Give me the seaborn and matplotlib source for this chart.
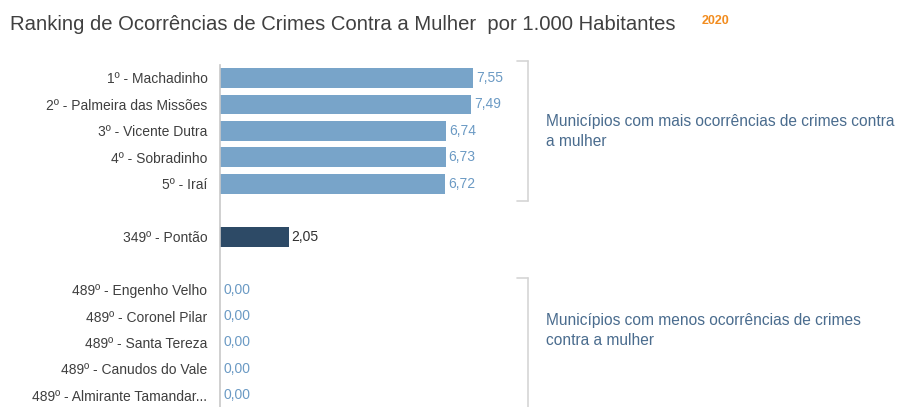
import matplotlib
matplotlib.use("Agg")
import matplotlib.pyplot as plt
from matplotlib.lines import Line2D
import seaborn as sns
import pandas as pd

# ---- data ----
municipios = [
    "1º - Machadinho",
    "2º - Palmeira das Missões",
    "3º - Vicente Dutra",
    "4º - Sobradinho",
    "5º - Iraí",
    "349º - Pontão",
    "489º - Engenho Velho",
    "489º - Coronel Pilar",
    "489º - Santa Tereza",
    "489º - Canudos do Vale",
    "489º - Almirante Tamandar...",
]
valores = [7.55, 7.49, 6.74, 6.73, 6.72, 2.05, 0.00, 0.00, 0.00, 0.00, 0.00]
grupos = ["top", "top", "top", "top", "top", "sel", "low", "low", "low", "low", "low"]
ordem = municipios[:5] + [" "] + [municipios[5]] + ["  "] + municipios[6:]

titulo = "Ranking de Ocorrências de Crimes Contra a Mulher  por 1.000 Habitantes"
ano = "2020"
nota_top = "Municípios com mais ocorrências de crimes contra\na mulher"
nota_low = "Municípios com menos ocorrências de crimes\ncontra a mulher"

sns.set_theme(style="white")
plt.rcParams["font.family"] = ["Liberation Sans", "DejaVu Sans"]

W, H = 911, 407
fig = plt.figure(figsize=(W / 100, H / 100), dpi=100)

def fx(px):
    return px / W

def fy(py):
    return 1 - py / H

ax_left, ax_right = 220, 528
ax_top, ax_bot = 64.75, 408.6
ax = fig.add_axes([fx(ax_left), fy(ax_bot), fx(ax_right) - fx(ax_left), fy(ax_top) - fy(ax_bot)])

df = pd.DataFrame({"municipio": municipios, "valor": valores, "grupo": grupos})
palette = {"top": "#78A4C9", "sel": "#2D4A66", "low": "#78A4C9"}
sns.barplot(data=df, x="valor", y="municipio", hue="grupo", order=ordem,
            palette=palette, dodge=False, width=0.75, legend=False, ax=ax,
            linewidth=0, saturation=1)

ax.set_xlim(0, 9.19)
ax.set_ylim(12.5, -0.5)
ax.set_xlabel("")
ax.set_ylabel("")
ax.set_xticks([])
for s in ["top", "right", "bottom"]:
    ax.spines[s].set_visible(False)
ax.spines["left"].set_color("#C8C8C8")
ax.spines["left"].set_linewidth(1.2)
ax.tick_params(axis="y", length=0, pad=9, labelsize=10, labelcolor="#3F3F3F")

# value labels
for name, v, g in zip(municipios, valores, grupos):
    ypos = ordem.index(name)
    col = "#2F2F2F" if g == "sel" else "#6B9AC4"
    ax.text(v + 0.09, ypos, f"{v:.2f}".replace(".", ","), va="center", ha="left",
            fontsize=10, color=col)

# title
fig.text(fx(10), fy(24), titulo, fontsize=14.6, color="#404040", va="center", ha="left")
fig.text(fx(702), fy(21), ano, fontsize=9, color="#F28C1E", fontweight="bold",
         va="center", ha="left")

# brackets
bc = "#D5D5D5"
fig.add_artist(Line2D([fx(528), fx(528)], [fy(61), fy(201)], color=bc, lw=1.2))
fig.add_artist(Line2D([fx(517), fx(528)], [fy(61), fy(61)], color=bc, lw=1.2))
fig.add_artist(Line2D([fx(517), fx(528)], [fy(201), fy(201)], color=bc, lw=1.2))
fig.add_artist(Line2D([fx(528), fx(528)], [fy(278), fy(410)], color=bc, lw=1.2))
fig.add_artist(Line2D([fx(517), fx(528)], [fy(278), fy(278)], color=bc, lw=1.2))

fig.text(fx(546), fy(131.5), nota_top, fontsize=11.2, color="#4A6C8E", va="center",
         ha="left", linespacing=1.4)
fig.text(fx(546), fy(330.5), nota_low, fontsize=11.2, color="#4A6C8E", va="center",
         ha="left", linespacing=1.4)

fig.savefig("out.png", dpi=100)
